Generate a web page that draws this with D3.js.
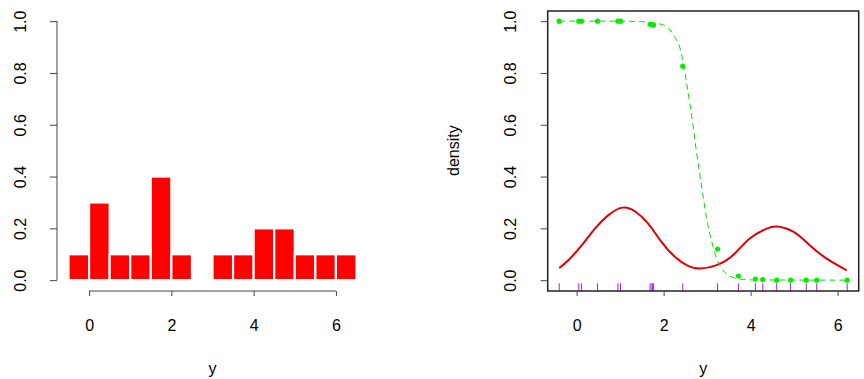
<!DOCTYPE html>
<meta charset="utf-8">
<title>Histogram and mixture fit</title>
<style>
body { margin: 0; background: #fff; }
svg { font-family: "Liberation Sans", Arial, Helvetica, sans-serif; font-size: 16px; }
.axis path.domain { display: none; }
.axis line { stroke: #444; }
.axis text { fill: #000; font-size: 16px; }
</style>
<svg width="864" height="379"></svg>
<script src="https://d3js.org/d3.v7.min.js"></script>
<script>
// histogram (density scale), bins of width 0.5
var binStarts = [-0.5, 0, 0.5, 1, 1.5, 2, 2.5, 3, 3.5, 4, 4.5, 5, 5.5, 6];
var binWidth = 0.5;
var binDensity = [0.1, 0.3, 0.1, 0.1, 0.4, 0.1, 0, 0.1, 0.1, 0.2, 0.2, 0.1, 0.1, 0.1];

// observations (rug) and their fitted probabilities (green points)
var obs = [-0.40, 0.05, 0.11, 0.48, 0.95, 1.01, 1.69, 1.73, 1.75, 1.77,
           2.44, 3.24, 3.72, 4.11, 4.28, 4.60, 4.92, 5.28, 5.52, 6.22];
var obsProb = [1.000, 1.000, 1.000, 1.000, 1.000, 1.000, 0.988, 0.987, 0.986, 0.985,
               0.826, 0.120, 0.016, 0.004, 0.002, 0.000, 0.000, 0.000, 0.000, 0.000];

// dashed green curve
var probX = [-0.40, 1.00, 1.50, 1.80, 2.00, 2.10, 2.25, 2.37, 2.45, 2.52, 2.60, 2.68,
             2.75, 2.83, 2.91, 2.98, 3.06, 3.14, 3.21, 3.33, 3.48, 3.70, 4.00, 6.22];
var probY = [1.000, 1.000, 0.998, 0.992, 0.985, 0.975, 0.940, 0.900, 0.840, 0.770, 0.685, 0.592,
             0.502, 0.410, 0.322, 0.245, 0.180, 0.128, 0.088, 0.046, 0.020, 0.006, 0.001, 0.000];

// red density curve
var densX = [-0.40, -0.19, 0.12, 0.42, 0.73, 1.05, 1.34, 1.64, 1.95, 2.26, 2.56,
             2.85, 3.22, 3.60, 3.98, 4.37, 4.61, 4.98, 5.36, 5.74, 6.21];
var densY = [0.047, 0.077, 0.135, 0.199, 0.251, 0.280, 0.266, 0.219, 0.148, 0.090, 0.055,
             0.045, 0.058, 0.097, 0.161, 0.199, 0.207, 0.187, 0.135, 0.084, 0.038];

var xTicks = [0, 2, 4, 6];
var yTicks = [0, 0.2, 0.4, 0.6, 0.8, 1.0];

var svg = d3.select("svg");

var y = d3.scaleLinear().domain([-0.04, 1.04]).range([290.5, 10.8]);

function yAxis(g, left) {
  var ax = g.append("g")
    .attr("class", "axis")
    .attr("transform", "translate(" + left + ",0)")
    .call(d3.axisLeft(y).tickValues(yTicks).tickSize(7).tickFormat(d3.format(".1f")));
  ax.selectAll("text")
    .attr("x", 0).attr("dy", 0)
    .attr("text-anchor", "middle")
    .attr("transform", "translate(-31.3,0) rotate(-90)");
  return ax;
}

function xAxis(g, x, bottom) {
  var ax = g.append("g")
    .attr("class", "axis")
    .attr("transform", "translate(0," + bottom + ")")
    .call(d3.axisBottom(x).tickValues(xTicks).tickSize(5).tickFormat(d3.format("d")));
  ax.selectAll("text").attr("y", 40).attr("dy", 0);
  return ax;
}

// ---- left panel: histogram ----
var xL = d3.scaleLinear().domain([-0.78, 6.78]).range([57, 368]);
var gL = svg.append("g");

var bins = binStarts.map(function(s, i) { return {x0: s, x1: s + binWidth, d: binDensity[i]}; })
  .filter(function(b) { return b.d > 0; });

gL.selectAll("rect.bar")
  .data(bins)
  .enter().append("rect")
    .attr("class", "bar")
    .attr("x", function(b) { return xL(b.x0); })
    .attr("width", function(b) { return xL(b.x1) - xL(b.x0); })
    .attr("y", function(b) { return y(b.d); })
    .attr("height", function(b) { return y(0) - y(b.d); })
    .attr("fill", "#ff0000")
    .attr("stroke", "#fff")
    .attr("stroke-width", 2.2);

yAxis(gL, 57).append("line")
  .attr("x1", 0).attr("x2", 0)
  .attr("y1", y(0)).attr("y2", y(1))
  .attr("stroke", "#444");

xAxis(gL, xL, 291).append("line")
  .attr("x1", xL(0)).attr("x2", xL(6))
  .attr("stroke", "#444");

gL.append("text")
  .attr("x", (xL.range()[0] + xL.range()[1]) / 2)
  .attr("y", 374)
  .attr("text-anchor", "middle")
  .text("y");

// ---- right panel: density + fitted probability ----
var xR = d3.scaleLinear().domain([-0.665, 6.485]).range([547.7, 858.7]);
var gR = svg.append("g");

var densLine = d3.line()
  .x(function(d) { return xR(d[0]); })
  .y(function(d) { return y(d[1]); })
  .curve(d3.curveNatural);

gR.append("path")
  .datum(densX.map(function(v, i) { return [v, densY[i]]; }))
  .attr("d", densLine)
  .attr("fill", "none")
  .attr("stroke", "#e00000")
  .attr("stroke-width", 2);

var probLine = d3.line()
  .x(function(d) { return xR(d[0]); })
  .y(function(d) { return y(d[1]); })
  .curve(d3.curveMonotoneX);

gR.append("path")
  .datum(probX.map(function(v, i) { return [v, probY[i]]; }))
  .attr("d", probLine)
  .attr("fill", "none")
  .attr("stroke", "#00e000")
  .attr("stroke-width", 1)
  .attr("stroke-dasharray", "6,4");

gR.selectAll("circle.pt")
  .data(obs)
  .enter().append("circle")
    .attr("class", "pt")
    .attr("cx", function(d) { return xR(d); })
    .attr("cy", function(d, i) { return y(obsProb[i]); })
    .attr("r", 2.6)
    .attr("fill", "#00ee00");

gR.selectAll("line.rug")
  .data(obs)
  .enter().append("line")
    .attr("class", "rug")
    .attr("x1", function(d) { return xR(d); })
    .attr("x2", function(d) { return xR(d); })
    .attr("y1", 291)
    .attr("y2", 283.3)
    .attr("stroke", "#a020f0")
    .attr("stroke-width", 1);

gR.append("rect")
  .attr("x", xR.range()[0]).attr("y", 11)
  .attr("width", xR.range()[1] - xR.range()[0])
  .attr("height", 280)
  .attr("fill", "none")
  .attr("stroke", "#222")
  .attr("stroke-width", 1.5);

yAxis(gR, 547.7);
xAxis(gR, xR, 291);

gR.append("text")
  .attr("x", (xR.range()[0] + xR.range()[1]) / 2)
  .attr("y", 374)
  .attr("text-anchor", "middle")
  .text("y");

gR.append("text")
  .attr("transform", "translate(459," + (y(0.5)) + ") rotate(-90)")
  .attr("text-anchor", "middle")
  .text("density");
</script>
